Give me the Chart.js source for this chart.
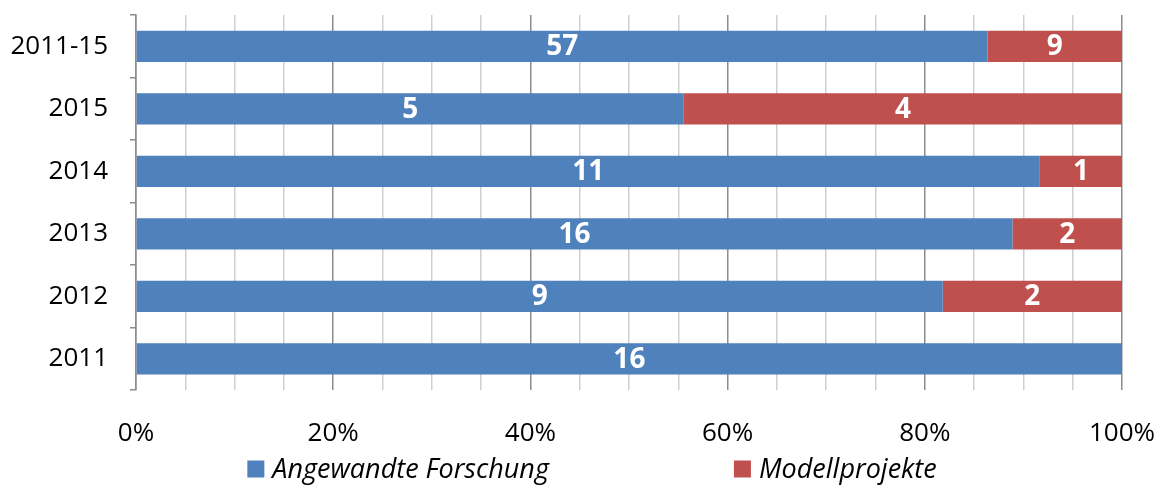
<!DOCTYPE html>
<html>
<head>
<meta charset="utf-8">
<script src="https://cdn.jsdelivr.net/npm/chart.js@4.4.1/dist/chart.umd.min.js"></script>
<style>
  html, body { margin: 0; padding: 0; background: #fff; }
  #wrap { width: 1162px; height: 485px; position: relative; }
</style>
</head>
<body>
<div id="wrap"><canvas id="chart"></canvas></div>
<script>
const CATEGORIES = ["2011-15", "2015", "2014", "2013", "2012", "2011"];
const FORSCHUNG = [57, 5, 11, 16, 9, 16];
const MODELL = [9, 4, 1, 2, 2, 0];
const SERIES_NAMES = ["Angewandte Forschung", "Modellprojekte"];
const X_TICKS = [0, 20, 40, 60, 80, 100];

const BLUE = "#4F81BD";
const RED = "#C0504D";
const FONT = "'Open Sans', 'Noto Sans', sans-serif";

const totals = CATEGORIES.map((_, i) => FORSCHUNG[i] + MODELL[i]);
const share = (arr) => arr.map((v, i) => (v / totals[i]) * 100);

// white count labels centred in each segment
const valueLabels = {
  id: "valueLabels",
  afterDatasetsDraw(chart) {
    const ctx = chart.ctx;
    ctx.save();
    ctx.fillStyle = "#fff";
    ctx.font = "bold 28px " + FONT;
    ctx.textAlign = "center";
    ctx.textBaseline = "middle";
    chart.data.datasets.forEach((ds, di) => {
      chart.getDatasetMeta(di).data.forEach((bar, i) => {
        const n = ds.counts[i];
        if (!n) return;
        const x = (bar.base + bar.x) / 2;
        ctx.fillText(String(n), x, bar.y + 1);
      });
    });
    ctx.restore();
  },
};

// legend drawn at the bottom, spread out like the original
const bottomLegend = {
  id: "bottomLegend",
  afterDraw(chart) {
    const ctx = chart.ctx;
    ctx.save();
    ctx.font = "italic 27px " + FONT;
    ctx.textBaseline = "middle";
    const box = 17, gapText = 8, gapItems = 185;
    const items = chart.data.datasets.map((ds) => ({
      label: ds.label,
      color: ds.backgroundColor,
      w: box + gapText + ctx.measureText(ds.label).width,
    }));
    const total = items.reduce((s, it) => s + it.w, 0) + gapItems * (items.length - 1);
    let x = chart.width / 2 + 11 - total / 2;
    const y = 469;
    items.forEach((it) => {
      ctx.fillStyle = it.color;
      ctx.fillRect(x, y - box / 2, box, box);
      ctx.fillStyle = "#000";
      ctx.fillText(it.label, x + box + gapText, y + 1);
      x += it.w + gapItems;
    });
    ctx.restore();
  },
};

new Chart(document.getElementById("chart"), {
  type: "bar",
  data: {
    labels: CATEGORIES,
    datasets: [
      { label: SERIES_NAMES[0], data: share(FORSCHUNG), counts: FORSCHUNG, backgroundColor: BLUE },
      { label: SERIES_NAMES[1], data: share(MODELL), counts: MODELL, backgroundColor: RED },
    ],
  },
  options: {
    indexAxis: "y",
    responsive: true,
    maintainAspectRatio: false,
    animation: false,
    layout: { padding: { top: 15, right: 40, bottom: 25, left: 0 } },
    datasets: { bar: { barPercentage: 0.5, categoryPercentage: 1 } },
    plugins: { legend: { display: false }, tooltip: { enabled: false } },
    scales: {
      x: {
        stacked: true,
        min: 0,
        max: 100,
        afterBuildTicks: (s) => {
          const t = [];
          for (let v = 0; v <= 100; v += 5) t.push({ value: v });
          s.ticks = t;
        },
        afterFit: (s) => {
          s.height = 70;
          s.paddingLeft = 0;
          s.paddingRight = 0;
        },
        ticks: {
          autoSkip: false,
          maxRotation: 0,
          padding: 28,
          color: "#000",
          font: { family: FONT, size: 26 },
          callback: (v) => (X_TICKS.includes(v) ? v + "%" : ""),
        },
        grid: {
          drawTicks: false,
          lineWidth: 1.5,
          color: (c) => (c.tick && c.tick.value % 20 === 0 ? "#8C8C8C" : "#CFCFCF"),
        },
        border: { display: false },
      },
      y: {
        stacked: true,
        afterFit: (s) => {
          s.width = 136;
          s.paddingTop = 0;
          s.paddingBottom = 0;
        },
        ticks: {
          padding: 22,
          color: "#000",
          font: { family: FONT, size: 26 },
        },
        grid: { drawOnChartArea: false, drawTicks: true, tickLength: 6, color: "#8C8C8C", lineWidth: 1.5 },
        border: { color: "#8C8C8C", width: 1.5 },
      },
    },
  },
  plugins: [valueLabels, bottomLegend],
});
</script>
</body>
</html>
